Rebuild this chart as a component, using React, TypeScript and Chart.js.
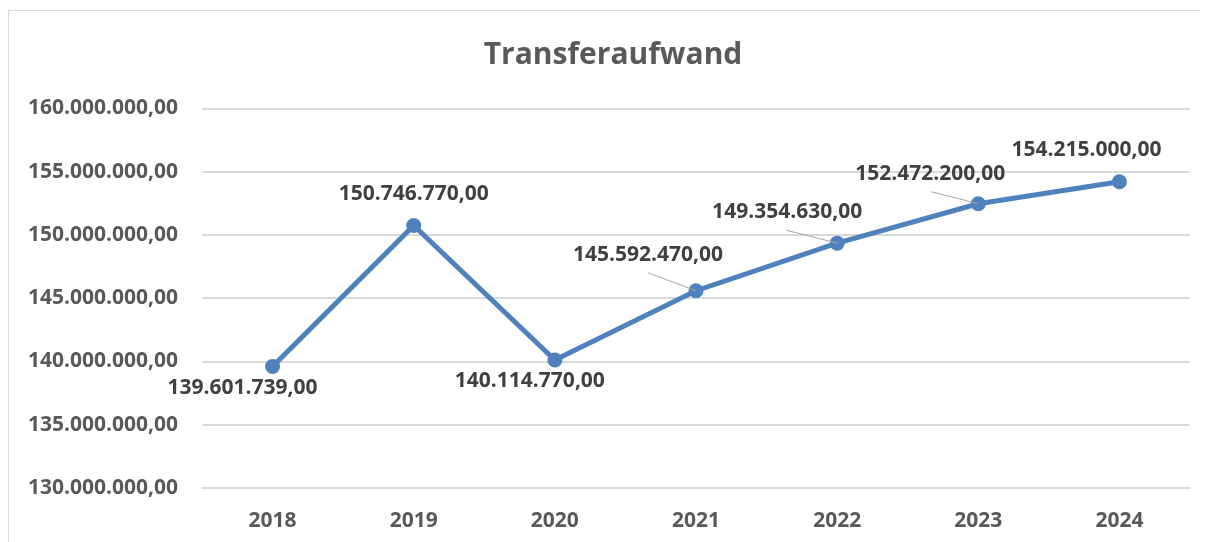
import React, { useEffect, useRef } from "react";
import { Chart, registerables } from "chart.js";

Chart.register(...registerables);

const categories = ["2018", "2019", "2020", "2021", "2022", "2023", "2024"];
const transferaufwand = [
  139601739.0, 150746770.0, 140114770.0, 145592470.0, 149354630.0, 152472200.0, 154215000.0,
];
const chartTitle = "Transferaufwand";
const yMin = 130000000;
const yMax = 160000000;
const yStep = 5000000;

// label placement relative to the point (dx, dy of text centre)
const labelOffsets: [number, number][] = [
  [-30, 21],
  [0, -32],
  [-25, 21],
  [-48, -36],
  [-50, -31],
  [-48, -30],
  [-33, -32],
];
// leader line start relative to the point (null = none)
const leaderOffsets: ([number, number] | null)[] = [
  null,
  null,
  null,
  [-48, -18],
  [-51, -13],
  [-47, -12],
  null,
];

const FONT = "'Open Sans', 'Liberation Sans', sans-serif";
const fmt = (v: number) =>
  v.toLocaleString("de-DE", { minimumFractionDigits: 2, maximumFractionDigits: 2 });

const titlePlugin = {
  id: "customTitle",
  afterDraw(chart: any) {
    const ctx = chart.ctx;
    ctx.save();
    ctx.font = `bold 30px ${FONT}`;
    ctx.fillStyle = "#595959";
    ctx.textAlign = "center";
    ctx.textBaseline = "middle";
    ctx.fillText(chartTitle, 604, 44);
    ctx.restore();
  },
};

const dataLabelPlugin = {
  id: "dataLabelPlugin",
  afterDatasetsDraw(chart: any) {
    const ctx = chart.ctx;
    const meta = chart.getDatasetMeta(0);
    const data = chart.data.datasets[0].data as number[];
    ctx.save();
    meta.data.forEach((pt: any, i: number) => {
      const lo = leaderOffsets[i];
      if (lo) {
        ctx.beginPath();
        ctx.strokeStyle = "#a6a6a6";
        ctx.lineWidth = 1;
        ctx.moveTo(pt.x + lo[0], pt.y + lo[1]);
        ctx.lineTo(pt.x, pt.y);
        ctx.stroke();
      }
    });
    meta.data.forEach((pt: any, i: number) => {
      const [dx, dy] = labelOffsets[i];
      ctx.font = `bold 21px ${FONT}`;
      ctx.fillStyle = "#404040";
      ctx.textAlign = "center";
      ctx.textBaseline = "middle";
      ctx.fillText(fmt(data[i]), pt.x + dx, pt.y + dy);
    });
    ctx.restore();
  },
};

export default function App() {
  const ref = useRef<HTMLCanvasElement | null>(null);
  useEffect(() => {
    if (!ref.current) return;
    const chart = new Chart(ref.current, {
      type: "line",
      data: {
        labels: categories,
        datasets: [
          {
            data: transferaufwand,
            borderColor: "#4f81bd",
            backgroundColor: "#4f81bd",
            borderWidth: 5,
            pointRadius: 7.5,
            pointBorderWidth: 0,
            pointBackgroundColor: "#4f81bd",
            tension: 0,
          },
        ],
      },
      options: {
        animation: false,
        responsive: false,
        maintainAspectRatio: false,
        layout: { padding: { left: 0, right: 10, top: 97.5, bottom: 0 } },
        plugins: {
          legend: { display: false },
          tooltip: { enabled: false },
          title: { display: false },
        },
        scales: {
          x: {
            offset: true,
            grid: { display: false, drawTicks: false },
            border: { display: false },
            ticks: {
              color: "#595959",
              font: { family: FONT, size: 21, weight: "bold" },
              padding: 20,
              maxRotation: 0,
            },
            afterFit: (s: any) => {
              s.height = 54;
            },
          },
          y: {
            min: yMin,
            max: yMax,
            grid: { color: "#d9d9d9", lineWidth: 2, drawTicks: false },
            border: { display: false },
            ticks: {
              stepSize: yStep,
              color: "#595959",
              font: { family: FONT, size: 21, weight: "bold" },
              padding: 24,
              callback: (v: any) => fmt(Number(v)),
            },
            afterFit: (s: any) => {
              s.width = 193;
            },
          },
        },
      },
      plugins: [dataLabelPlugin, titlePlugin],
    });
    return () => chart.destroy();
  }, []);
  return (
    <div
      style={{
        marginTop: 2,
        borderTop: "1px solid #d9d9d9",
        borderLeft: "1px solid #d9d9d9",
        width: 1199,
        height: 531,
      }}
    >
      <canvas ref={ref} width={1191} height={531} style={{ display: "block", width: 1191, height: 531 }} />
    </div>
  );
}
